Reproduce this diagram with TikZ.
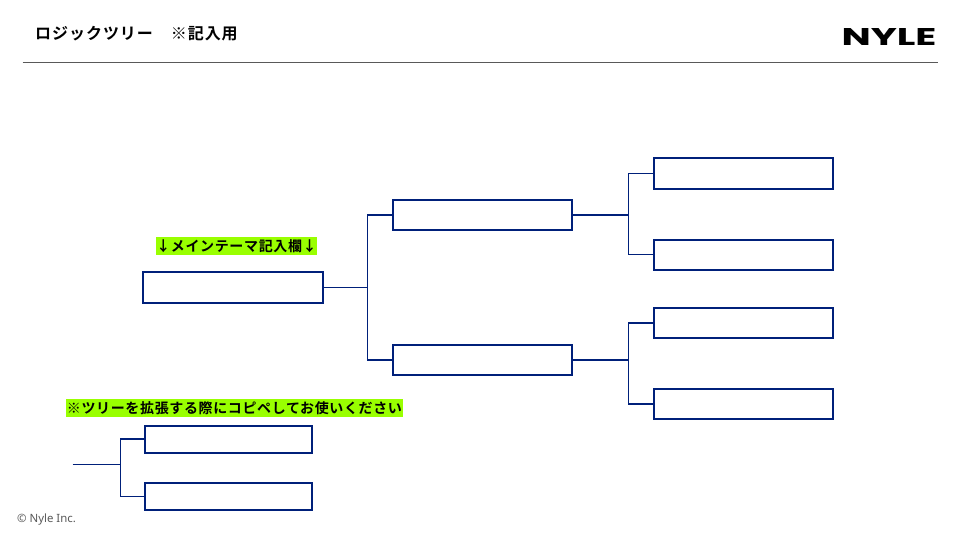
\documentclass[tikz,border=0pt]{standalone}
\usepackage{fontspec}
\setmainfont{Noto Sans CJK JP}
\newfontfamily\jpb[LetterSpace=6]{Noto Sans CJK JP Bold}
\newfontfamily\jpc[LetterSpace=4.5]{Noto Sans CJK JP Bold}
\newfontfamily\logof{Poppins Bold}
\newfontfamily\smallf{Noto Sans}
\definecolor{navy}{HTML}{00207A}
\definecolor{lime}{HTML}{99FF00}
\definecolor{rulegray}{HTML}{595959}
\tikzset{
  x=1pt,y=-1pt,
  tbox/.style={draw=navy,line width=2pt,fill=white,inner sep=0pt,minimum width=179.6pt,minimum height=30.4pt},
  sbox/.style={draw=navy,line width=2pt,fill=white,inner sep=0pt,minimum width=166.2pt,minimum height=27pt},
  link/.style={draw=navy,line width=1.3pt},
  tag/.style={fill=lime,inner sep=0pt,font=\fontsize{14}{14}\selectfont\jpc,text=black,text height=11pt,text depth=1pt,minimum height=18pt},
}
\begin{document}
\begin{tikzpicture}
\useasboundingbox (0,0) rectangle (960,540);
\node[anchor=west,inner sep=0pt,font=\fontsize{16}{16}\selectfont\jpb] (title) at (35,34) {ロジックツリー　※記入用};
\node[anchor=center,inner sep=0pt] (logo) at (889,37) {\resizebox{95pt}{17pt}{\logof NYLE}};
\coordinate (ruleL) at (22.5,62.5);
\coordinate (ruleR) at (938,62.5);
\draw[rulegray,line width=1pt] (ruleL) -- (ruleR);

\node[tag,minimum width=161pt] (tagA) at (236.5,246) {↓\hspace{0.5pt}メインテーマ記入欄\hspace{0.5pt}↓};
\node[tag,minimum width=337pt] (tagB) at (234.5,408) {※ツリーを拡張する際にコピペしてお使いください};

\node[tbox] (main) at (233,287.3) {};
\node[tbox] (m1) at (482.5,215) {};
\node[tbox] (m2) at (482.5,360) {};
\node[tbox] (r1) at (743.5,173.4) {};
\node[tbox] (r2) at (743.5,254.8) {};
\node[tbox] (r3) at (743.5,323) {};
\node[tbox] (r4) at (743.5,404) {};
\node[sbox] (s1) at (228.5,439) {};
\node[sbox] (s2) at (228.5,496.3) {};

\coordinate (jA) at (367.3,287.3);
\coordinate (jB) at (628.3,215);
\coordinate (jC) at (628.3,360);
\coordinate (jD) at (120.3,464.3);
\coordinate (free) at (72.5,464.3);

\draw[link] (main.east) -- (jA);
\draw[link] (m1.west) -| (jA);
\draw[link] (m2.west) -| (jA);
\draw[link] (m1.east) -- (jB);
\draw[link] (r1.west) -| (jB);
\draw[link] (r2.west) -| (jB);
\draw[link] (m2.east) -- (jC);
\draw[link] (r3.west) -| (jC);
\draw[link] (r4.west) -| (jC);
\draw[link] (free) -- (jD);
\draw[link] (s1.west) -| (jD);
\draw[link] (s2.west) -| (jD);

\node[anchor=base west,inner sep=0pt,text=rulegray,font=\fontsize{11.4}{11.4}\selectfont\smallf] (copy) at (17,522) {© Nyle Inc.};
\end{tikzpicture}
\end{document}
